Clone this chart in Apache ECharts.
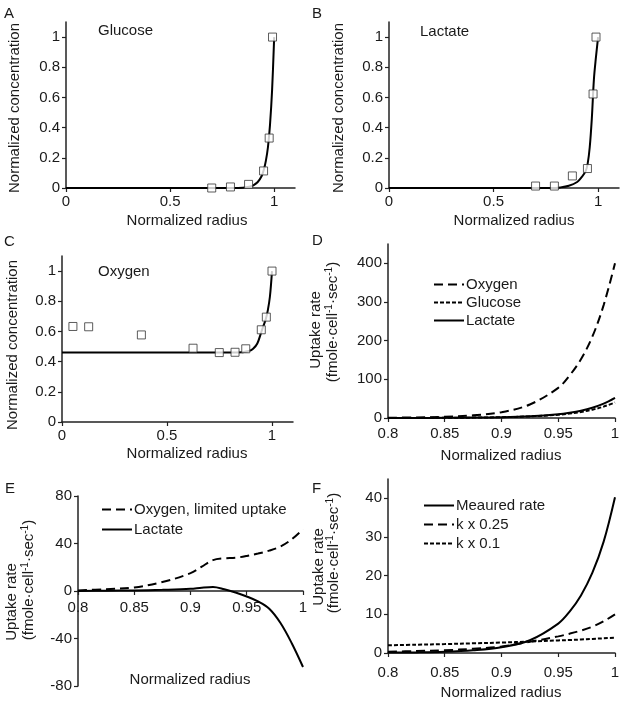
<!DOCTYPE html>
<html><head><meta charset="utf-8">
<script src="https://cdn.jsdelivr.net/npm/echarts@6/dist/echarts.min.js"></script>
<style>html,body{margin:0;padding:0;background:#fff}#c{width:624px;height:703px}</style>
</head><body><div id="c"></div>
<script>
// ---------- Data ----------
// Panel A: Glucose
const glucoseDataR = [0.70, 0.79, 0.877, 0.949, 0.976, 0.992];
const glucoseDataC = [0.00, 0.007, 0.024, 0.113, 0.331, 1.0];
const glucoseFitR = [0, 0.5, 0.8, 0.85, 0.88, 0.9, 0.92, 0.94, 0.95, 0.96, 0.97, 0.98, 0.99, 1.0];
const glucoseFitC = [0, 0, 0, 0.002, 0.008, 0.018, 0.038, 0.08, 0.12, 0.18, 0.27, 0.42, 0.65, 1.0];
// Panel B: Lactate
const lactateDataR = [0.701, 0.791, 0.877, 0.949, 0.976, 0.990];
const lactateDataC = [0.013, 0.013, 0.08, 0.129, 0.623, 1.0];
const lactateFitR = [0, 0.5, 0.78, 0.82, 0.86, 0.9, 0.92, 0.94, 0.95, 0.96, 0.97, 0.98, 0.99, 1.0];
const lactateFitC = [0, 0, 0, 0.004, 0.015, 0.04, 0.07, 0.11, 0.16, 0.27, 0.46, 0.72, 0.87, 1.0];
// Panel C: Oxygen
const oxygenDataR = [0.052, 0.127, 0.378, 0.624, 0.749, 0.824, 0.875, 0.949, 0.973, 1.0];
const oxygenDataC = [0.633, 0.631, 0.577, 0.489, 0.460, 0.462, 0.485, 0.611, 0.695, 1.0];
const oxygenFitR = [0, 0.5, 0.8, 0.86, 0.89, 0.91, 0.93, 0.95, 0.96, 0.97, 0.98, 0.99, 1.0];
const oxygenFitC = [0.46, 0.46, 0.46, 0.463, 0.47, 0.485, 0.52, 0.6, 0.64, 0.68, 0.74, 0.83, 1.0];
// Panel D: uptake rates
const dR = [0.8, 0.825, 0.85, 0.875, 0.9, 0.925, 0.95, 0.96, 0.97, 0.98, 0.99, 1.0];
const dOxygen = [0.7, 1.5, 3.3, 7, 15, 35, 78, 110, 152, 210, 292, 400];
const dGlucose = [0.1, 0.2, 0.5, 1.0, 2.0, 4.2, 8.5, 11.5, 15.5, 21.5, 29.5, 40];
const dLactate = [0.1, 0.2, 0.5, 1.1, 2.2, 4.8, 10, 13.8, 19, 26.5, 37, 52];
// Panel E
const eR = [0.8, 0.825, 0.85, 0.875, 0.9, 0.91, 0.92, 0.93, 0.94, 0.95, 0.96, 0.97, 0.98, 0.99, 1.0];
const eOxygenLimited = [0.5, 1.5, 3, 7.5, 15, 20.5, 26, 27.5, 28, 29.5, 31.5, 34, 37.5, 43.5, 52];
const eLactate = [0, 0.2, 0.5, 1.0, 1.8, 2.8, 3.4, 1.5, -1.2, -4.6, -8.8, -15, -27, -44, -64];
// Panel F
const fR = [0.8, 0.825, 0.85, 0.875, 0.9, 0.925, 0.95, 0.96, 0.97, 0.98, 0.99, 1.0];
const fMeasured = [0.1, 0.15, 0.3, 0.7, 1.5, 3.3, 7.6, 10.7, 14.9, 20.7, 28.8, 40.3];
const fK025 = [0.3, 0.5, 0.7, 1.1, 1.7, 2.9, 4.3, 5.0, 5.8, 6.8, 8.2, 10];
const fK01 = [2.0, 2.15, 2.3, 2.5, 2.7, 2.95, 3.25, 3.35, 3.5, 3.65, 3.8, 3.95];
// Tick labels
const ticksRadiusFull = [0, 0.5, 1];
const ticksConc = [0, 0.2, 0.4, 0.6, 0.8, 1];
const ticksRadiusZoom = [0.8, 0.85, 0.9, 0.95, 1];
const ticksD = [0, 100, 200, 300, 400];
const ticksE = [-80, -40, 0, 40, 80];
const ticksF = [0, 10, 20, 30, 40];

// ---------- Chart ----------
const FONT = '"Liberation Sans", Arial, sans-serif';
const TXT = '#1a1a1a';
const AX = '#222';
function pairs(xs, ys) { return xs.map((x, i) => [x, ys[i]]); }

function axis(idx, min, max, ticks, extra) {
  return Object.assign({
    type: 'value', gridIndex: idx, min: min, max: max,
    axisLine: { show: true, onZero: false, lineStyle: { color: AX, width: 1.5 } },
    axisTick: { show: true, inside: false, length: 4, customValues: ticks, lineStyle: { color: AX, width: 1.2 } },
    axisLabel: { customValues: ticks, color: TXT, fontSize: 15, fontFamily: FONT, margin: 6 },
    splitLine: { show: false }
  }, extra || {});
}

const grids = [
  { left: 66, top: 22, width: 229, height: 166 },
  { left: 389, top: 22, width: 230, height: 166 },
  { left: 62, top: 256, width: 231, height: 166 },
  { left: 388, top: 244, width: 227, height: 174 },
  { left: 78, top: 496, width: 225, height: 190 },
  { left: 388, top: 479, width: 227, height: 174 }
];

const xAxes = [
  axis(0, 0, 1.1, ticksRadiusFull),
  axis(1, 0, 1.1, ticksRadiusFull),
  axis(2, 0, 1.1, ticksRadiusFull),
  axis(3, 0.8, 1, ticksRadiusZoom),
  axis(4, 0.8, 1, ticksRadiusZoom, { offset: -95 }),
  axis(5, 0.8, 1, ticksRadiusZoom)
];
xAxes[3].axisLabel.margin = 8;
xAxes[4].axisLabel.margin = 9;
xAxes[5].axisLabel.margin = 12;

const yAxes = [
  axis(0, 0, 1.1, ticksConc),
  axis(1, 0, 1.1, ticksConc),
  axis(2, 0, 1.1, ticksConc),
  axis(3, 0, 450, ticksD),
  axis(4, -80, 80, ticksE),
  axis(5, 0, 45, ticksF)
];

function fitLine(name, idx, xs, ys, type) {
  return {
    name: name, type: 'line', xAxisIndex: idx, yAxisIndex: idx,
    data: pairs(xs, ys), symbol: 'none', smooth: 0.35,
    lineStyle: { color: '#000', width: 2, type: type || 'solid' },
    itemStyle: { color: '#000' }, z: 3, silent: true
  };
}
function marks(name, idx, xs, ys) {
  return {
    name: name, type: 'scatter', xAxisIndex: idx, yAxisIndex: idx,
    data: pairs(xs, ys), symbol: 'rect', symbolSize: 8,
    itemStyle: { color: '#fff', borderColor: '#333', borderWidth: 1 }, z: 5, silent: true
  };
}
const LONG = [9, 5], SHORT = [4, 2];

const series = [
  fitLine('Glucose fit', 0, glucoseFitR, glucoseFitC),
  marks('Glucose data', 0, glucoseDataR, glucoseDataC),
  fitLine('Lactate fit', 1, lactateFitR, lactateFitC),
  marks('Lactate data', 1, lactateDataR, lactateDataC),
  fitLine('Oxygen fit', 2, oxygenFitR, oxygenFitC),
  marks('Oxygen data', 2, oxygenDataR, oxygenDataC),
  fitLine('Oxygen', 3, dR, dOxygen, LONG),
  fitLine('Glucose', 3, dR, dGlucose, SHORT),
  fitLine('Lactate', 3, dR, dLactate),
  fitLine('Oxygen, limited uptake', 4, eR, eOxygenLimited, LONG),
  fitLine('Lactate', 4, eR, eLactate),
  fitLine('Meaured rate', 5, fR, fMeasured),
  fitLine('k x 0.25', 5, fR, fK025, LONG),
  fitLine('k x 0.1', 5, fR, fK01, SHORT)
];

function legend(left, top, gap, names) {
  return {
    orient: 'vertical', left: left, top: top, itemWidth: 30, itemHeight: 14, itemGap: gap,
    selectedMode: false, data: names, padding: 0,
    itemStyle: { opacity: 0, borderWidth: 0 },
    textStyle: { color: TXT, fontSize: 15, fontFamily: FONT, padding: [0, 0, 0, -3] }
  };
}

function txt(x, y, text, opts) {
  return Object.assign({
    type: 'text', x: x, y: y, silent: true,
    style: Object.assign({ text: text, fill: TXT, font: '15px ' + FONT, align: 'center', verticalAlign: 'middle' }, (opts && opts.style) || {})
  }, (opts && opts.el) || {});
}
const ROT = { el: { rotation: Math.PI / 2 } };
const UNIT = '(fmole·cell{s|-1}·sec{s|-1})';
function unitTxt(x, y) {
  return {
    type: 'text', x: x, y: y, rotation: Math.PI / 2, silent: true,
    style: {
      text: UNIT, fill: TXT, font: '15px ' + FONT, align: 'center', verticalAlign: 'middle',
      rich: { s: { fontSize: 10, fontFamily: FONT, verticalAlign: 'top', lineHeight: 18, fill: TXT } }
    }
  };
}
const L = { style: { align: 'left' } };

const graphic = [
  txt(4, 14, 'A', L), txt(312, 14, 'B', L), txt(4, 242, 'C', L),
  txt(312, 241, 'D', L), txt(5, 489, 'E', L), txt(312, 489, 'F', L),
  txt(98, 31, 'Glucose', L), txt(420, 32, 'Lactate', L), txt(98, 272, 'Oxygen', L),
  txt(187, 221, 'Normalized radius'), txt(514, 221, 'Normalized radius'),
  txt(187, 454, 'Normalized radius'), txt(501, 456, 'Normalized radius'),
  txt(190, 680, 'Normalized radius'), txt(501, 693, 'Normalized radius'),
  txt(15, 108, 'Normalized concentration', ROT),
  txt(339, 108, 'Normalized concentration', ROT),
  txt(13, 345, 'Normalized concentration', ROT),
  txt(316, 330, 'Uptake rate', ROT), unitTxt(333, 322),
  txt(12, 602, 'Uptake rate', ROT), unitTxt(29, 580),
  txt(319, 567, 'Uptake rate', ROT), unitTxt(334, 553)
];

const chart = echarts.init(document.getElementById('c'), null, { renderer: 'canvas' });
chart.setOption({
  animation: false,
  backgroundColor: '#fff',
  textStyle: { fontFamily: FONT },
  grid: grids,
  xAxis: xAxes,
  yAxis: yAxes,
  legend: [
    legend(433, 277, 3, ['Oxygen', 'Glucose', 'Lactate']),
    legend(101, 502, 5, ['Oxygen, limited uptake', 'Lactate']),
    legend(423, 498, 4, ['Meaured rate', 'k x 0.25', 'k x 0.1'])
  ],
  series: series,
  graphic: graphic
});
</script></body></html>
